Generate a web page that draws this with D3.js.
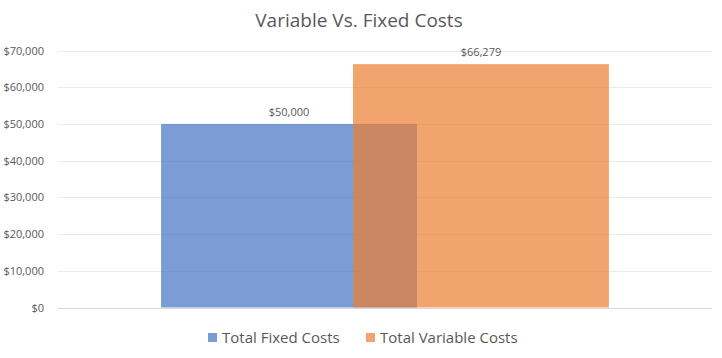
<!DOCTYPE html>
<html>
<head>
<meta charset="utf-8">
<script src="https://cdn.jsdelivr.net/npm/d3@7"></script>
<style>
  body { margin: 0; background: #fff; }
  text { font-family: "Open Sans", sans-serif; fill: #595959; }
</style>
</head>
<body>
<div id="chart"></div>
<script>
// data
var categories = ["Costs"];
var seriesNames = ["Total Fixed Costs", "Total Variable Costs"];
var seriesValues = [50000, 66279];
var seriesColors = ["#4472C4", "#ED7D31"];
var tickValues = [0, 10000, 20000, 30000, 40000, 50000, 60000, 70000];

var width = 722;
var height = 358;
var plot = { left: 58, right: 712, top: 50.5, bottom: 307.5 };

var svg = d3.select("#chart")
    .append("svg")
    .attr("width", width)
    .attr("height", height);

var y = d3.scaleLinear()
    .domain([0, 70000])
    .range([plot.bottom, plot.top]);

// one category, bars overlap inside it
var x = d3.scaleBand()
    .domain(categories)
    .range([plot.left, plot.right])
    .paddingInner(0)
    .paddingOuter(0.23);

var xs = d3.scalePoint()
    .domain(seriesNames)
    .range([0, x.bandwidth()])
    .padding(0.667);

var barW = xs.step() * 4 / 3;
var fmt = d3.format("$,.0f");

// gridlines
svg.append("g")
    .selectAll("line")
    .data(tickValues)
    .enter()
    .append("line")
    .attr("x1", plot.left)
    .attr("x2", plot.right)
    .attr("y1", function (d) { return Math.round(y(d)) + 0.5; })
    .attr("y2", function (d) { return Math.round(y(d)) + 0.5; })
    .attr("stroke", function (d) { return d === 0 ? "#d9d9d9" : "#ebebeb"; })
    .attr("stroke-width", 1);

// y axis labels
var yAxis = d3.axisLeft(y)
    .tickValues(tickValues)
    .tickFormat(fmt)
    .tickSize(0)
    .tickPadding(0);

var ga = svg.append("g")
    .attr("transform", "translate(44,0)")
    .call(yAxis);
ga.select(".domain").remove();
ga.selectAll("text")
    .attr("font-size", "11px")
    .style("font-family", "'Open Sans', sans-serif")
    .attr("fill", "#595959");

// bars
var rows = seriesNames.map(function (s, i) {
    return { name: s, value: seriesValues[i], color: seriesColors[i], cat: categories[0] };
});

var bars = svg.selectAll(".bar")
    .data(rows)
    .enter()
    .append("g")
    .attr("class", "bar");

bars.append("rect")
    .attr("x", function (d) { return x(d.cat) + xs(d.name) - barW / 2; })
    .attr("y", function (d) { return y(d.value); })
    .attr("width", barW)
    .attr("height", function (d) { return plot.bottom - y(d.value); })
    .attr("fill", function (d) { return d.color; })
    .attr("fill-opacity", 0.7);

bars.append("text")
    .attr("x", function (d) { return x(d.cat) + xs(d.name); })
    .attr("y", function (d) { return y(d.value) - 8; })
    .attr("text-anchor", "middle")
    .attr("font-size", "11px")
    .style("fill", "#595959")
    .text(function (d) { return fmt(d.value); });

// title
svg.append("text")
    .attr("x", 359)
    .attr("y", 27)
    .attr("text-anchor", "middle")
    .attr("font-size", "19px")
    .text("Variable Vs. Fixed Costs");

// legend
var legendX = [208, 366];
var legend = svg.selectAll(".legend")
    .data(rows)
    .enter()
    .append("g")
    .attr("class", "legend")
    .attr("transform", function (d, i) { return "translate(" + legendX[i] + ",333)"; });

legend.append("rect")
    .attr("width", 9)
    .attr("height", 9)
    .attr("fill", function (d) { return d.color; })
    .attr("fill-opacity", 0.7);

legend.append("text")
    .attr("x", 14)
    .attr("y", 10)
    .attr("font-size", "15px")
    .text(function (d) { return d.name; });
</script>
</body>
</html>
